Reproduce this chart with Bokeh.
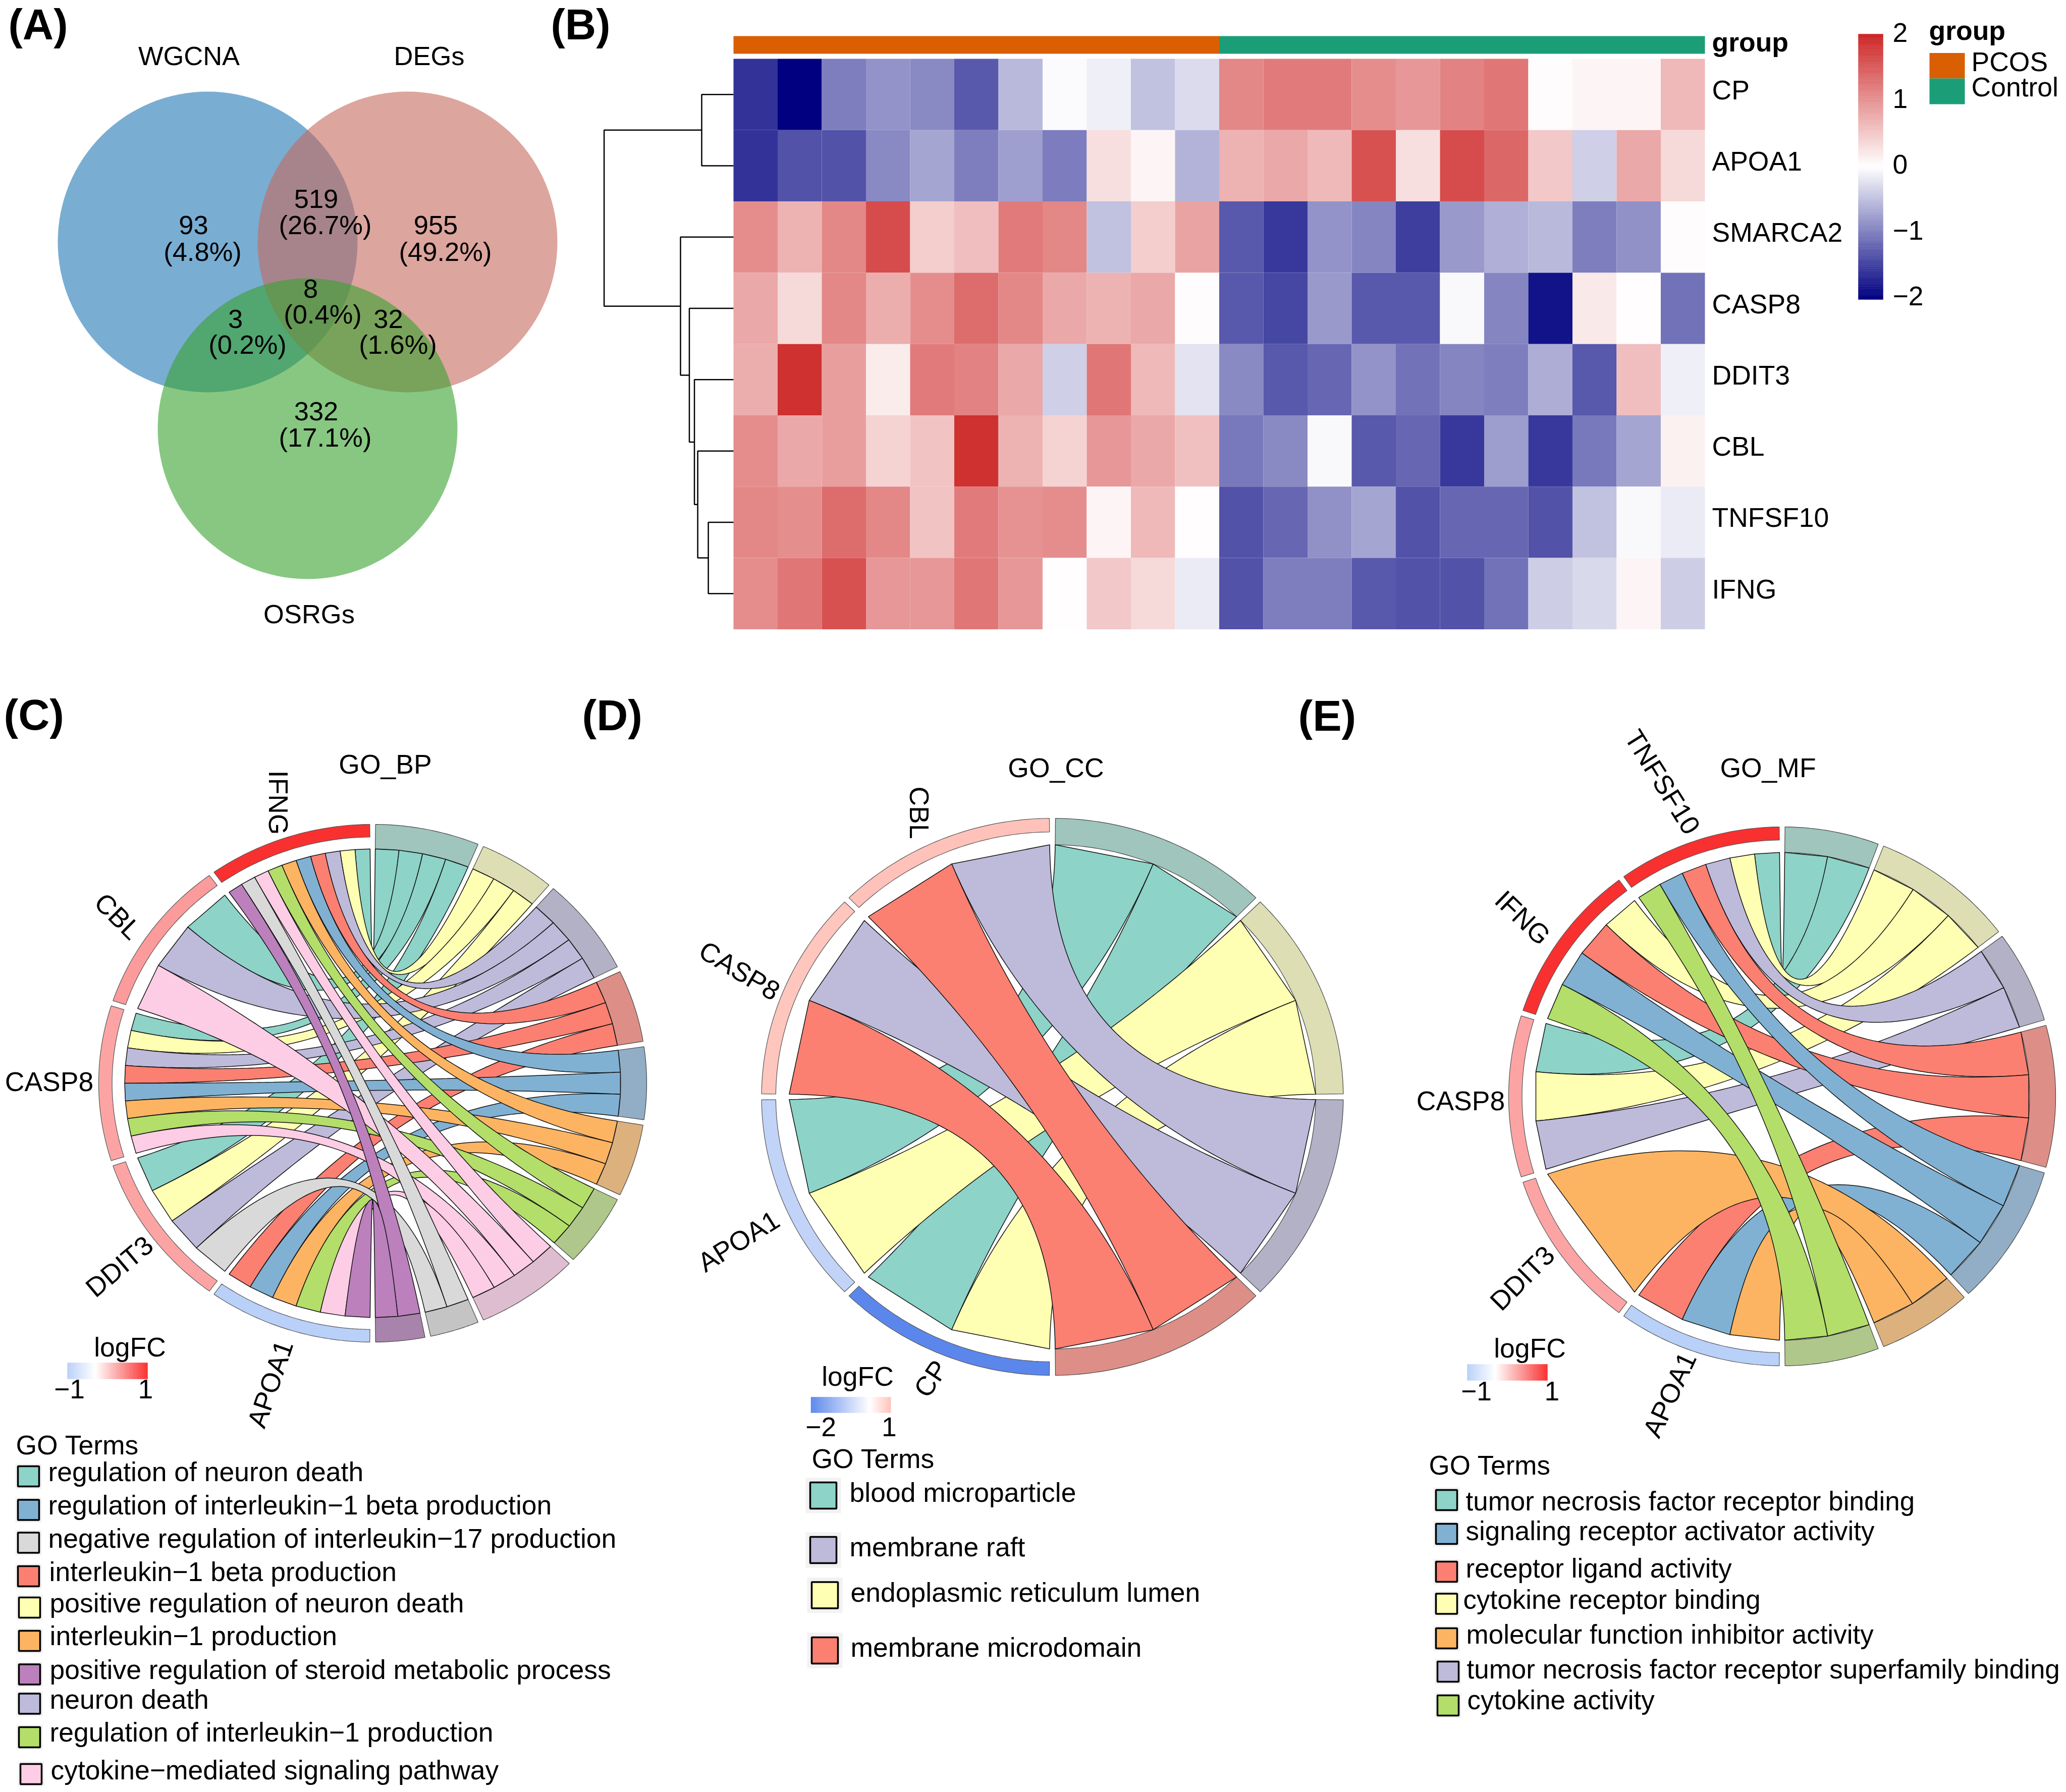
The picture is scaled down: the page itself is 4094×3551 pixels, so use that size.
import math
from bokeh.plotting import figure
from bokeh.layouts import column, row
from bokeh.models import Range1d, LinearColorMapper, ColumnDataSource
from bokeh.core.properties import value
from bokeh.embed import file_html
from bokeh.resources import INLINE

# ---------------- DATA ----------------
venn_sets = ["WGCNA", "DEGs", "OSRGs"]
venn_counts = [93, 519, 955, 8, 3, 32, 332]

heat_genes = ["CP", "APOA1", "SMARCA2", "CASP8", "DDIT3", "CBL", "TNFSF10", "IFNG"]
heat_groups = ["PCOS", "Control"]
group_sizes = [11, 11]
heat_cp = [-1.6, -2.0, -1.0, -.85, -.93, -1.3, -.55, -.03, -.12, -.48, -.29, 1.1, 1.2, 1.2, 1.05, .95, 1.15, 1.25, .03, .1, .1, .65]
heat_apoa1 = [-1.6, -1.35, -1.35, -.92, -.7, -1.0, -.75, -1.02, .3, .1, -.6, .7, .8, .65, 1.6, .3, 1.65, 1.4, .5, -.38, .8, .35]
heat_smarca2 = [1.05, .7, 1.1, 1.65, .45, .6, 1.2, 1.1, -.48, .45, .85, -1.3, -1.55, -.85, -.95, -1.5, -.8, -.62, -.55, -1.0, -.87, .03]
heat_casp8 = [.8, .35, 1.1, .75, 1.05, 1.35, 1.1, .8, .7, .8, .03, -1.3, -1.45, -.8, -1.3, -1.3, -.05, -.95, -1.85, .2, .02, -1.1]
heat_ddit3 = [.75, 1.9, .9, .17, 1.2, 1.15, .8, -.38, 1.25, .65, -.22, -.93, -1.3, -1.2, -.85, -1.1, -.95, -1.0, -.65, -1.3, .6, -.13]
heat_cbl = [1.05, .8, .9, .4, .55, 1.9, .7, .4, .95, .8, .58, -1.05, -.93, -.05, -1.3, -1.2, -1.55, -.77, -1.55, -1.05, -.7, .12]
heat_tnfsf10 = [1.1, 1.03, 1.35, 1.1, .55, 1.2, 1.0, 1.05, .1, .65, .02, -1.35, -1.2, -.87, -.7, -1.35, -1.2, -1.2, -1.35, -.48, -.05, -.15]
heat_ifng = [1.05, 1.25, 1.6, .95, .95, 1.25, .95, .02, .5, .35, -.15, -1.35, -1.0, -1.0, -1.3, -1.35, -1.35, -1.1, -.4, -.3, .1, -.4]
heat_rows = [heat_cp, heat_apoa1, heat_smarca2, heat_casp8, heat_ddit3, heat_cbl, heat_tnfsf10, heat_ifng]
heat_ticks = [2, 1, 0, -1, -2]
# merges: (child a, child b, height); leaves 0..7, merged nodes 8..
tree_merges = [(0, 1, .72), (6, 7, .57), (5, 9, .81), (4, 10, .885), (3, 11, 1.0), (2, 12, 1.2), (8, 13, 2.93)]

genes_c = ["IFNG", "CBL", "CASP8", "DDIT3", "APOA1"]
logfc_c = [1.0, .33, .27, .27, -1.0]
terms_c = ["teal", "yellow", "lilac", "red", "blue", "orange", "green", "pink", "gray", "magenta"]
links_c = [
    [1, 1, 1, 1, 1, 1, 1, 1, 1, 1],
    [1, 0, 1, 0, 0, 0, 0, 1, 0, 0],
    [1, 1, 1, 1, 1, 1, 1, 1, 0, 0],
    [1, 1, 1, 0, 0, 0, 0, 0, 1, 0],
    [0, 0, 0, 1, 1, 1, 1, 1, 0, 1],
]
legend_c = [
    ("regulation of neuron death", "teal"),
    ("regulation of interleukin−1 beta production", "blue"),
    ("negative regulation of interleukin−17 production", "gray"),
    ("interleukin−1 beta production", "red"),
    ("positive regulation of neuron death", "yellow"),
    ("interleukin−1 production", "orange"),
    ("positive regulation of steroid metabolic process", "magenta"),
    ("neuron death", "lilac"),
    ("regulation of interleukin−1 production", "green"),
    ("cytokine−mediated signaling pathway", "pink"),
]

genes_d = ["CBL", "CASP8", "APOA1", "CP"]
logfc_d = [1.0, .95, -.6, -2.0]
terms_d = ["teal", "yellow", "lilac", "red"]
links_d = [
    [0, 0, 1, 1],
    [0, 0, 1, 1],
    [1, 1, 0, 0],
    [1, 1, 0, 0],
]
legend_d = [
    ("blood microparticle", "teal"),
    ("membrane raft", "lilac"),
    ("endoplasmic reticulum lumen", "yellow"),
    ("membrane microdomain", "red"),
]

genes_e = ["TNFSF10", "IFNG", "CASP8", "DDIT3", "APOA1"]
logfc_e = [1.0, 1.0, .27, .27, -1.0]
terms_e = ["teal", "yellow", "lilac", "red", "blue", "orange", "green"]
links_e = [
    [1, 1, 1, 1, 1, 0, 1],
    [0, 1, 0, 1, 1, 0, 1],
    [1, 1, 1, 0, 0, 0, 0],
    [0, 0, 0, 0, 0, 1, 0],
    [0, 0, 0, 1, 1, 1, 0],
]
legend_e = [
    ("tumor necrosis factor receptor binding", "teal"),
    ("signaling receptor activator activity", "blue"),
    ("receptor ligand activity", "red"),
    ("cytokine receptor binding", "yellow"),
    ("molecular function inhibitor activity", "orange"),
    ("tumor necrosis factor receptor superfamily binding", "lilac"),
    ("cytokine activity", "green"),
]

# ---------------- STYLE / LAYOUT ----------------
FONT = "Liberation Sans"
FS = 53.5
ribbon_col = dict(teal="#8DD3C7", yellow="#FFFFB3", lilac="#BEBADA", red="#FB8072", blue="#80B1D3",
                  orange="#FDB462", green="#B3DE69", pink="#FCCDE5", gray="#D9D9D9", magenta="#BC80BD")
ring_col = dict(teal="#9FC5BD", yellow="#DEDEB5", lilac="#B3B1C6", red="#DD8F87", blue="#92ADC6",
                orange="#DDB17E", green="#AFC78B", pink="#DFBDD0", gray="#C4C4C4", magenta="#A884AC")
group_col = ["#D95F02", "#1B9E77"]


def hex2rgb(h):
    return tuple(int(h[i:i + 2], 16) for i in (1, 3, 5))


def interp(stops, v):
    v = max(stops[0][0], min(stops[-1][0], v))
    for (a, ca), (b, cb) in zip(stops, stops[1:]):
        if v <= b:
            t = (v - a) / (b - a)
            ra, rb = hex2rgb(ca), hex2rgb(cb)
            return "#%02X%02X%02X" % tuple(round(x + (y - x) * t) for x, y in zip(ra, rb))
    return stops[-1][1]


def make_fig(L, R, T, B, xr, yr):
    p = figure(width=R - L, height=B - T, x_range=Range1d(*xr), y_range=Range1d(*yr),
               output_backend="svg", toolbar_location=None, min_border=0,
               x_axis_location=None, y_axis_location=None)
    p.grid.visible = False
    p.outline_line_color = None
    p.background_fill_color = "white"
    return p


def txt(p, x, y, s, size=FS, angle=0.0, align="center", style="normal", base="middle", **kw):
    p.text(x=[x], y=[y], text=[s], text_font=value(FONT), text_font_size=value(f"{size}px"),
           text_font_style=style, text_align=align, text_baseline=base, text_color="black",
           angle=[math.radians(angle)], **kw)


# ---------------- TOP FIGURE: PANELS A AND B ----------------
TOP_R, TOP_B = 4086, 1300
pa = make_fig(0, TOP_R, 0, TOP_B, (0, TOP_R), (TOP_B, 0))
venn_xy = [(411, 479), (807, 479), (609, 849)]
venn_fill = ["#2277B4", "#C4695E", "#37A12F"]
venn_lab = [(374, 110), (850, 110), (612, 1216)]
for (cx, cy), col, name, (lx, ly) in zip(venn_xy, venn_fill, venn_sets, venn_lab):
    pa.ellipse(x=[cx], y=[cy], width=[594], height=[596], fill_color=col, fill_alpha=.6, line_color=None)
    txt(pa, lx, ly, name, 52.5)
count_xy = [(383, 445), (626, 393), (863, 445), (615, 571), (466, 631), (769, 631), (626, 814)]
pct_xy = [(401, 498), (644, 445), (882, 498), (639, 622), (490, 682), (788, 682), (644, 866)]
total = sum(venn_counts)
for c, (x1, y1), (x2, y2) in zip(venn_counts, count_xy, pct_xy):
    txt(pa, x1, y1, str(c), 52.5)
    txt(pa, x2, y2, f"({100 * c / total:.1f}%)", 52.5)
txt(pa, 16, 48, "(A)", 85, align="left", style="bold")
txt(pa, 1091, 48, "(B)", 85, align="left", style="bold")

HX0, HW, HY0, HH = 1453, 87.5, 116, 141.3
fx = lambda px: (px - HX0) / HW
fy = lambda py: (py - HY0) / HH
pa.extra_x_ranges = {"hx": Range1d(fx(0), fx(TOP_R))}
pa.extra_y_ranges = {"hy": Range1d(fy(TOP_B), fy(0))}
HK = dict(x_range_name="hx", y_range_name="hy")
heat_stops = [(-2, "#000080"), (0, "#FFFFFF"), (2, "#CD2626")]
palette = [interp(heat_stops, -2 + 4 * i / 254) for i in range(255)]
mapper = LinearColorMapper(palette=palette, low=-2, high=2)
hx, hy, hv = [], [], []
for r, vals in enumerate(heat_rows):
    for c, v in enumerate(vals):
        hx.append(c + .5)
        hy.append(r + .5)
        hv.append(v)
src = ColumnDataSource(dict(x=hx, y=hy, v=hv))
pa.rect(x="x", y="y", width=1, height=1, source=src, fill_color={"field": "v", "transform": mapper},
        line_color=None, **HK)
start = 0
for n, col in zip(group_sizes, group_col):
    pa.quad(left=[start], right=[start + n], top=[fy(71)], bottom=[fy(106)], fill_color=col, line_color=None, **HK)
    start += n
txt(pa, fx(3392), fy(83), "group", FS, align="left", style="bold", **HK)
for r, g in enumerate(heat_genes):
    txt(pa, fx(3392), r + .5 - 9 / HH, g, FS, align="left", **HK)
node_y = {i: i + .5 for i in range(8)}
node_h = {i: 0.0 for i in range(8)}
for k, (a, b, h) in enumerate(tree_merges):
    pa.line(x=[-node_h[a], -h, -h, -node_h[b]], y=[node_y[a], node_y[a], node_y[b], node_y[b]],
            line_color="black", line_width=2.5, **HK)
    node_y[8 + k] = (node_y[a] + node_y[b]) / 2
    node_h[8 + k] = h
N = 120
for i in range(N):
    v0 = 2 - 4 * i / N
    v1 = 2 - 4 * (i + 1) / N
    col = interp(heat_stops, (v0 + v1) / 2)
    pa.quad(left=[fx(3682)], right=[fx(3731)], top=[fy(330 - 131.5 * v0)], bottom=[fy(330 - 131.5 * v1)],
            fill_color=col, line_color=col, line_width=.5, **HK)
for t in heat_ticks:
    txt(pa, fx(3750), fy(325 - 130.5 * t), str(t).replace("-", "−"), FS, align="left", **HK)
txt(pa, fx(3822), fy(60), "group", FS, align="left", style="bold", **HK)
leg_y = [(104.5, 155, 122), (155, 206, 172)]
for (t0, t1, ty), name, col in zip(leg_y, heat_groups, group_col):
    pa.quad(left=[fx(3823)], right=[fx(3893)], top=[fy(t0)], bottom=[fy(t1)], fill_color=col, line_color=None, **HK)
    txt(pa, fx(3906), fy(ty), name, FS, align="left", **HK)

# ---------------- CHORD PANELS ----------------
R_RIB, R_GENE, R_TERM = .905, .951, .905
GAP = .6


def arc(a0, a1, r, n=40):
    return [(r * math.cos(math.radians(a0 + (a1 - a0) * i / n)),
             r * math.sin(math.radians(a0 + (a1 - a0) * i / n))) for i in range(n + 1)]


def bez(a0, a1, r, n=60):
    p0 = (r * math.cos(math.radians(a0)), r * math.sin(math.radians(a0)))
    p2 = (r * math.cos(math.radians(a1)), r * math.sin(math.radians(a1)))
    out = []
    for i in range(n + 1):
        t = i / n
        out.append(((1 - t) ** 2 * p0[0] + t ** 2 * p2[0], (1 - t) ** 2 * p0[1] + t ** 2 * p2[1]))
    return out


def chord(fig_box, centre, radii, genes, logfc, terms, links, stops):
    L, R, T, B = fig_box
    cx, cy = centre
    rx, ry = radii
    X = lambda px: (px - cx) / rx
    Y = lambda py: (cy - py) / ry
    p = make_fig(L, R, T, B, (X(L), X(R)), (Y(B), Y(T)))
    ng = len(genes)
    gene_slot = {}
    gs = 180 / ng
    for i in range(ng):
        a0, a1 = 90 + gs * i + GAP, 90 + gs * (i + 1) - GAP
        rp = arc(a0, a1, 1) + arc(a1, a0, R_GENE)
        col = interp(stops, logfc[i])
        p.patches(xs=[[q[0] for q in rp]], ys=[[q[1] for q in rp]], fill_color=col,
                  line_color="#555555", line_width=1.2)
        tl = [j for j in range(len(terms)) if links[i][j]]
        w = (a1 - a0) / len(tl)
        for k, j in enumerate(tl):
            gene_slot[(i, j)] = (a0 + w * k, a0 + w * (k + 1))
    counts = [sum(links[i][j] for i in range(ng)) for j in range(len(terms))]
    tot = sum(counts)
    term_slot = {}
    acc = 0
    for j, term in enumerate(terms):
        a0 = 90 - 180 * acc / tot - GAP
        acc += counts[j]
        a1 = 90 - 180 * acc / tot + GAP
        rp = arc(a0, a1, 1) + arc(a1, a0, R_TERM)
        p.patches(xs=[[q[0] for q in rp]], ys=[[q[1] for q in rp]], fill_color=ring_col[term],
                  line_color="#444444", line_width=1.2)
        gl = [i for i in range(ng) if links[i][j]]
        w = (a0 - a1) / len(gl)
        for k, i in enumerate(gl):
            term_slot[(i, j)] = (a0 - w * k, a0 - w * (k + 1))
    for j, term in enumerate(terms):
        for i in range(ng):
            if not links[i][j]:
                continue
            g0, g1 = gene_slot[(i, j)]
            t0, t1 = term_slot[(i, j)]
            pts = bez(g1, t1, R_RIB) + bez(t0, g0, R_RIB)
            p.patches(xs=[[q[0] for q in pts]], ys=[[q[1] for q in pts]], fill_color=ribbon_col[term],
                      line_color="#111111", line_width=1.5)
    return p, X, Y


def colourbar(p, X, Y, stops, box, lab_xy, tick_xy, tick_txt):
    x0, x1, y0, y1 = box
    N = 60
    vmin, vmax = stops[0][0], stops[-1][0]
    for i in range(N):
        c = interp(stops, vmin + (vmax - vmin) * (i + .5) / N)
        p.quad(left=[X(x0 + (x1 - x0) * i / N)], right=[X(x0 + (x1 - x0) * (i + 1) / N)],
               top=[Y(y0)], bottom=[Y(y1)], fill_color=c, line_color=c, line_width=.5)
    txt(p, X(lab_xy[0]), Y(lab_xy[1]), "logFC")
    for (x, y), s in zip(tick_xy, tick_txt):
        txt(p, X(x), Y(y), s)


def labels(p, X, Y, items):
    for s, x, y, ang in items:
        txt(p, X(x), Y(y), s, angle=ang)


def legend(p, X, Y, entries, title_xy, sw_x, sw_y, sw_w, sw_h, text_x, text_y, key_pad, size=FS):
    txt(p, X(title_xy[0]), Y(title_xy[1]), "GO Terms", size, align="left")
    for (name, col), sx, sy, tx, ty in zip(entries, sw_x, sw_y, text_x, text_y):
        p.quad(left=[X(sx - key_pad)], right=[X(sx + sw_w + key_pad)], top=[Y(sy - sw_h / 2 - key_pad)],
               bottom=[Y(sy + sw_h / 2 + key_pad)], fill_color="#F2F2F2", line_color=None)
        p.quad(left=[X(sx)], right=[X(sx + sw_w)], top=[Y(sy - sw_h / 2)], bottom=[Y(sy + sw_h / 2)],
               fill_color=ribbon_col[col], line_color="black", line_width=3.5)
        txt(p, X(tx), Y(ty), name, size, align="left")


stops_c = [(-1, "#B9D0F8"), (-.3, "#FFFFFF"), (1, "#F93030")]
stops_d = [(-2, "#5B87EC"), (.22, "#FFFFFF"), (1, "#FFC2BA")]

pc, X, Y = chord((0, 1290, TOP_B, 3540), (738, 2146), (543, 513), genes_c, logfc_c, terms_c, links_c, stops_c)
labels(pc, X, Y, [("GO_BP", 763, 1514, 0), ("IFNG", 551, 1590, -90), ("CBL", 233, 1815, -45),
                  ("CASP8", 97, 2143, 0), ("DDIT3", 236, 2509, 40), ("APOA1", 535, 2742, 71)])
colourbar(pc, X, Y, stops_c, (133, 292, 2700, 2732), (257, 2669), [(137, 2752), (288, 2752)], ["−1", "1"])
legend(pc, X, Y, legend_c, (31, 2863),
       [35, 35, 35, 35, 37, 37, 37, 37, 37, 40],
       [2925, 2991.5, 3056.6, 3123, 3185, 3251, 3317.4, 3375.5, 3442, 3515], 42, 40,
       [95, 95, 95, 97, 98, 98, 98, 98, 98, 100],
       [2916, 2982, 3048, 3114, 3176, 3241, 3308, 3366.6, 3432, 3506.6], 5)
txt(pc, X(7), Y(1415), "(C)", 86, align="left", style="bold")
txt(pc, X(1153), Y(1416), "(D)", 86, align="left", style="bold")

pd_, X, Y = chord((1290, 2700, TOP_B, 3540), (2085, 2173), (576.4, 552), genes_d, logfc_d, terms_d, links_d, stops_d)
labels(pd_, X, Y, [("GO_CC", 2092, 1521, 0), ("CBL", 1820.6, 1610, -90), ("CASP8", 1465, 1923, -31),
                   ("APOA1", 1463, 2459, 32), ("CP", 1844, 2731.5, 56)])
colourbar(pd_, X, Y, stops_d, (1606.5, 1764.7, 2768, 2799), (1699, 2727), [(1626, 2827), (1761.5, 2827)], ["−2", "1"])
legend(pd_, X, Y, legend_d, (1608, 2890), [1605, 1605, 1608, 1608], [2963, 3071, 3160.5, 3270], 52, 52,
       [1683, 1683, 1685, 1685], [2957, 3065, 3155, 3264], 9)
txt(pd_, X(2572), Y(1417), "(E)", 86, align="left", style="bold")

pe, X, Y = chord((2700, TOP_R, TOP_B, 3540), (3531, 2172), (542, 534), genes_e, logfc_e, terms_e, links_e, stops_c)
labels(pe, X, Y, [("GO_MF", 3503, 1520.5, 0), ("TNFSF10", 3294, 1549, -58), ("IFNG", 3017, 1818, -44),
                  ("CASP8", 2894, 2181, 0), ("DDIT3", 3016, 2532, 45), ("APOA1", 3308, 2763, 65)])
colourbar(pe, X, Y, stops_c, (2907, 3066, 2703, 2735), (3031, 2671), [(2925, 2756), (3075, 2756)], ["−1", "1"])
legend(pe, X, Y, legend_e, (2831, 2903), [2845, 2845, 2845, 2845, 2845, 2848, 2848],
       [2972, 3039, 3114, 3177.5, 3246, 3312, 3379], 42, 40,
       [2904, 2904, 2904, 2899, 2905, 2906, 2907], [2974, 3033, 3107, 3169, 3238, 3307, 3368], 5, size=53)

page = column(pa, row(pc, pd_, pe))
open("out.html", "w").write(file_html(page, INLINE))
